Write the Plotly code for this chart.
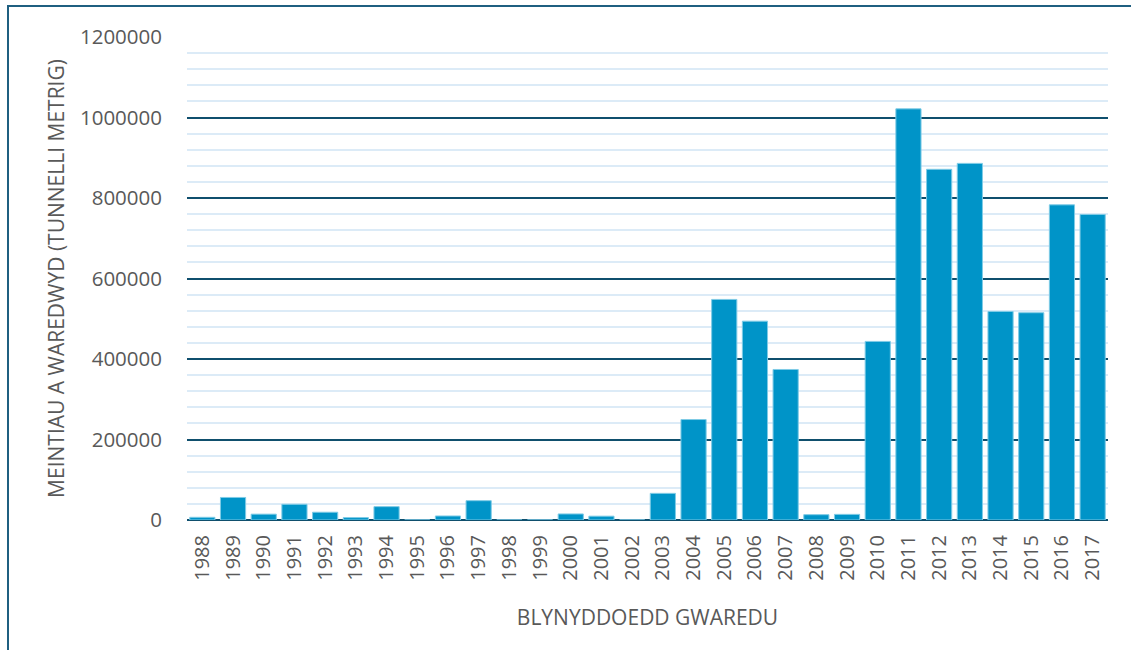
import plotly.graph_objects as go

years = [str(y) for y in range(1988, 2018)]
values = [6700, 56000, 14500, 39000, 19300, 6000, 33200, 0, 10000, 48000,
          0, 0, 15000, 9500, 0, 66200, 249600, 548000, 494000, 374000,
          13200, 14000, 443700, 1021500, 871300, 886000, 518000, 515000, 783000, 759000]

y_ticks = [0, 200000, 400000, 600000, 800000, 1000000, 1200000]

font_family = "Open Sans, Liberation Sans, sans-serif"
text_color = "#595959"
major_color = "#0f4f6d"
minor_color = "#dcebf7"

fig = go.Figure()
fig.add_trace(go.Bar(
    x=years, y=values,
    marker=dict(color="#0094c8", line=dict(color="#7fcbe6", width=1)),
))

fig.update_layout(
    width=1131, height=650,
    margin=dict(l=187, r=23, t=37, b=130),
    paper_bgcolor="white", plot_bgcolor="white",
    bargap=0.18,
    showlegend=False,
    font=dict(family=font_family, color=text_color, size=20),
    xaxis=dict(
        type="category",
        tickangle=-90,
        tickfont=dict(size=20, color=text_color),
        showgrid=False,
        showline=False,
        ticks="",
        ticklabelstandoff=10,
        title=dict(text="BLYNYDDOEDD GWAREDU", font=dict(size=21, color=text_color), standoff=30),
    ),
    yaxis=dict(
        range=[0, 1200000],
        tickvals=y_ticks,
        ticktext=[str(v) for v in y_ticks],
        tickfont=dict(size=20.5, color=text_color),
        showgrid=True, gridcolor=major_color, gridwidth=2,
        zeroline=True, zerolinecolor=major_color, zerolinewidth=2,
        showline=False, ticks="",
        ticklabelstandoff=24,
        minor=dict(dtick=40000, tick0=0, showgrid=True, gridcolor=minor_color, gridwidth=2),
        title=dict(text="MEINTIAU A WAREDWYD (TUNNELLI METRIG)", font=dict(size=21, color=text_color), standoff=9),
    ),
)

# outer frame (left and top edges visible)
fig.add_shape(type="rect", xref="paper", yref="paper",
              x0=(8 - 187) / 921, x1=1.2, y0=-0.5, y1=(520 - 6) / 483,
              line=dict(color="#1f5f80", width=2), fillcolor="rgba(0,0,0,0)", layer="above")

fig.write_html("out.html", config={"displayModeBar": False},
               post_script="document.body.style.margin='0px';")
